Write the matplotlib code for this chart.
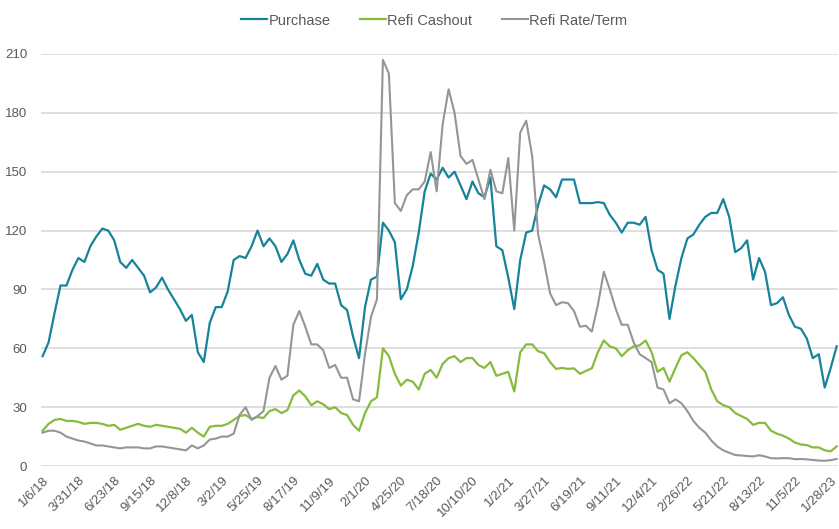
import numpy as np
import matplotlib.pyplot as plt

plt.rcParams['font.family'] = ['Liberation Sans', 'DejaVu Sans']

# weekly index, sampled every 2 weeks starting 1/6/18
purchase = [56, 63, 78, 92, 92, 100, 106, 104, 112, 117, 121, 120, 115, 104, 101, 105, 101, 97, 88.5, 91,
            96, 90, 85, 80, 74, 77, 58, 53,
            73, 81, 81, 89, 105, 107, 106, 112, 120, 112, 116, 112, 104, 108, 115, 105, 98, 97, 103, 95,
            93, 93, 82, 79.5, 66, 55,
            81, 95, 96.5, 124, 120, 114, 85, 90, 102, 119, 140, 149, 146, 152, 147, 150, 143, 136, 145, 139,
            137, 147, 112, 110, 96, 80, 105,
            119, 120, 133, 143, 141, 137, 146, 146, 146, 134, 134, 134, 134.5, 134, 128, 124, 119, 124, 124, 123,
            127, 110, 100, 98, 75, 92, 106,
            116, 118, 123, 127, 129, 129, 136, 127, 109, 111, 115, 95, 106, 99, 82, 83, 86, 77, 71, 70,
            65, 55, 57, 40, 50, 61]

refi_cashout = [18, 21.5, 23.5, 24, 23, 23, 22.5, 21.5, 22, 22, 21.5, 20.5, 21, 18.5, 19.5, 20.5, 21.5, 20.5, 20, 21,
                20.5, 20, 19.5, 19, 17, 19.5, 17, 15,
                20, 20.5, 20.5, 21.5, 23.5, 25.5, 26, 24, 25, 24.5, 28, 29, 27, 28.5, 36, 38.5, 35.5, 31, 33, 31.5,
                29, 30, 27, 26, 21, 18,
                27, 33, 35, 60, 56, 47, 41, 44, 43, 39, 47, 49, 45, 52, 55, 56, 53, 55, 55, 51.5,
                50, 53, 46, 47, 48, 38, 58,
                62, 62, 58.5, 57.5, 53, 49.5, 50, 49.5, 49.8, 47, 48.5, 49.8, 58, 64, 61, 60, 56, 59, 61, 61.5,
                64, 58, 48, 50, 43, 50, 56.5,
                58, 55, 51.5, 48, 39, 33, 31, 30, 27, 25.5, 24, 21, 22, 22, 18, 16.5, 15.5, 14, 12, 11,
                10.7, 9.5, 9.5, 8, 7.5, 10]

refi_rate_term = [17, 18, 18, 17, 15, 14, 13, 12.5, 11.5, 10.5, 10.5, 10, 9.5, 9, 9.5, 9.5, 9.5, 9, 9, 10,
                  10, 9.5, 9, 8.5, 8, 10.5, 9, 10.5,
                  13.5, 14, 15, 15, 16.5, 26, 30, 23.5, 25.5, 28, 45, 51, 44, 46, 72, 79, 71, 62, 62, 59,
                  50, 51.5, 45, 45, 34, 33,
                  57, 76, 85, 207, 200, 134, 130, 138, 141, 141, 145, 160, 140, 174, 192, 180, 158, 154, 156, 146,
                  136, 151, 140, 139, 157, 120, 170,
                  176, 158, 118, 104, 88, 82, 83.5, 83, 79, 71, 71.5, 68.5, 82, 99, 90, 80, 72, 72, 63, 57,
                  55, 53, 40, 39, 32, 34, 32,
                  28, 23, 19.5, 17, 13, 10, 8, 6.8, 5.6, 5.4, 5.1, 4.9, 5.5, 4.9, 4, 3.9, 4, 4, 3.5, 3.6,
                  3.4, 3.1, 2.8, 2.7, 3, 3.6]

tick_labels = ['1/6/18', '3/31/18', '6/23/18', '9/15/18', '12/8/18', '3/2/19', '5/25/19', '8/17/19',
               '11/9/19', '2/1/20', '4/25/20', '7/18/20', '10/10/20', '1/2/21', '3/27/21', '6/19/21',
               '9/11/21', '12/4/21', '2/26/22', '5/21/22', '8/13/22', '11/5/22', '1/28/23']

weeks = np.arange(len(purchase)) * 2

fig = plt.figure(figsize=(8.39, 5.29), dpi=100)
ax = fig.add_axes([0.049, 0.119, 0.95, 0.779])

ax.plot(weeks, purchase, color='#17839a', lw=1.6, label='Purchase')
ax.plot(weeks, refi_cashout, color='#86bc3c', lw=1.6, label='Refi Cashout')
ax.plot(weeks, refi_rate_term, color='#959595', lw=1.5, label='Refi Rate/Term')

ax.set_ylim(0, 210)
ax.set_yticks(range(0, 211, 30))
ax.set_xlim(-0.5, 266.5)
ax.set_xticks(np.arange(len(tick_labels)) * 12)
ax.set_xticklabels(tick_labels, rotation=45, ha='right', rotation_mode='anchor')
ax.tick_params(axis='both', length=0, labelsize=9.5, labelcolor='#595959')
ax.tick_params(axis='y', pad=10)
ax.tick_params(axis='x', pad=6)

ax.grid(axis='y', color='#d9d9d9', lw=1.2)
ax.set_axisbelow(True)
for s in ax.spines.values():
    s.set_visible(False)

ax.legend(loc='upper center', bbox_to_anchor=(0.493, 1.13), ncol=3, frameon=False,
          fontsize=10.5, handlelength=1.8, handletextpad=0.1, columnspacing=2.0,
          labelcolor='#595959')

fig.savefig('out.png', dpi=100)
